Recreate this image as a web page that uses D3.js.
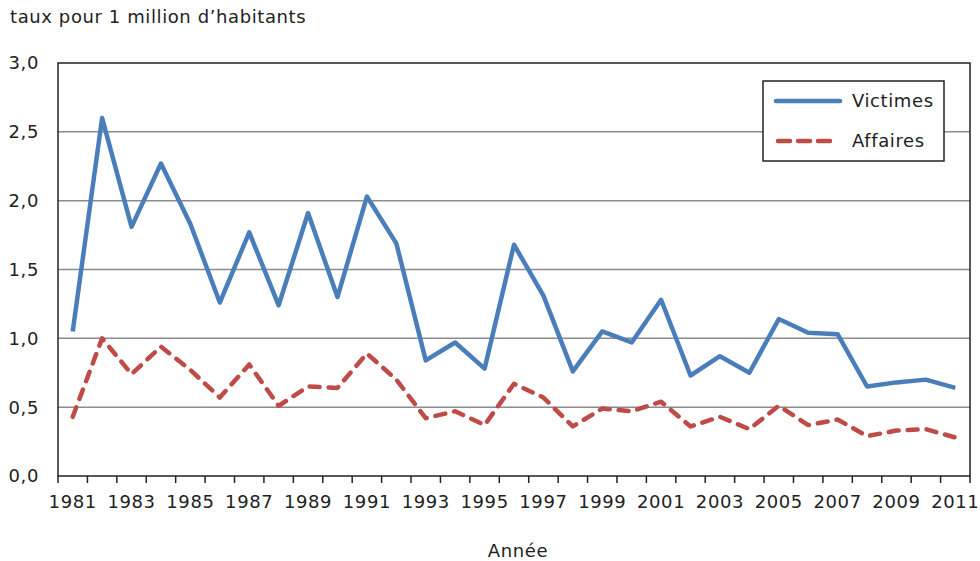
<!DOCTYPE html>
<html>
<head>
<meta charset="utf-8">
<script src="https://cdn.jsdelivr.net/npm/d3@7"></script>
<style>
  body { margin: 0; background: #fff; }
  svg text { font-family: "DejaVu Sans", Verdana, sans-serif; fill: #222; letter-spacing: 0.6px; }
</style>
</head>
<body>
<div id="chart"></div>
<script>
// DATA
var years = d3.range(1981, 2012)
var victimes = [1.05, 2.60, 1.81, 2.27, 1.83, 1.26, 1.77, 1.24, 1.91, 1.30,
  2.03, 1.69, 0.84, 0.97, 0.78, 1.68, 1.31, 0.76, 1.05, 0.97,
  1.28, 0.73, 0.87, 0.75, 1.14, 1.04, 1.03, 0.65, 0.68, 0.70, 0.64]
var affaires = [0.43, 1.00, 0.74, 0.94, 0.77, 0.57, 0.81, 0.51, 0.65, 0.64,
  0.89, 0.70, 0.42, 0.47, 0.37, 0.67, 0.57, 0.36, 0.49, 0.47,
  0.54, 0.36, 0.43, 0.34, 0.51, 0.37, 0.41, 0.29, 0.33, 0.34, 0.28]
var yTicks = [0, 0.5, 1, 1.5, 2, 2.5, 3]
var series = [{name: "Victimes", values: victimes, color: "#4a7ebb", dash: null},
  {name: "Affaires", values: affaires, color: "#be4b48", dash: "10,9"}]

var width = 980, height = 561
var margin = {top: 63, right: 10, bottom: 85, left: 58}
var FS = "18px"

var svg = d3.select("#chart").append("svg")
  .attr("width", width)
  .attr("height", height)

var x = d3.scaleBand()
  .domain(years)
  .range([margin.left, width - margin.right])
  .padding(0)

var y = d3.scaleLinear()
  .domain([0, 3])
  .range([height - margin.bottom, margin.top])

var fmt = function (d) { return d3.format(".1f")(d).replace(".", ",") }

// gridlines
svg.append("g").selectAll("line")
  .data(yTicks.slice(1, -1))
  .enter().append("line")
    .attr("x1", x.range()[0])
    .attr("x2", x.range()[1])
    .attr("y1", d => y(d))
    .attr("y2", d => y(d))
    .attr("stroke", "#8c8c8c")
    .attr("stroke-width", 1.5)

// plot frame
svg.append("rect")
  .attr("x", x.range()[0])
  .attr("y", y(3))
  .attr("width", x.range()[1] - x.range()[0])
  .attr("height", y(0) - y(3))
  .attr("fill", "none")
  .attr("stroke", "#222")
  .attr("stroke-width", 1.5)

// y labels
svg.append("g").selectAll("text")
  .data(yTicks)
  .enter().append("text")
    .attr("x", 39)
    .attr("y", d => y(d))
    .attr("dy", "0.36em")
    .attr("text-anchor", "end")
    .style("font-size", FS)
    .text(fmt)

// x ticks at category boundaries
var bounds = years.map(d => x(d)).concat([x.range()[1]])
svg.append("g").selectAll("line")
  .data(bounds)
  .enter().append("line")
    .attr("x1", d => d)
    .attr("x2", d => d)
    .attr("y1", y(0))
    .attr("y2", y(0) + 7)
    .attr("stroke", "#222")
    .attr("stroke-width", 1.5)

// x labels
var xAxis = d3.axisBottom(x)
  .tickValues(years.filter(d => d % 2 == 1))
  .tickSize(0)
  .tickPadding(0)

var gx = svg.append("g")
  .attr("transform", "translate(0," + y(0) + ")")
  .call(xAxis)
gx.select(".domain").remove()
gx.selectAll("text")
  .attr("y", 32)
  .attr("dy", 0)
  .style("font-size", FS)
  .style("font-family", "'DejaVu Sans', Verdana, sans-serif")
  .attr("fill", "#222")

// lines
var line = d3.line()
  .x((d, i) => x(years[i]) + x.bandwidth() / 2)
  .y(d => y(d))

svg.append("g").selectAll("path")
  .data(series)
  .enter().append("path")
    .attr("d", d => line(d.values))
    .attr("fill", "none")
    .attr("stroke", d => d.color)
    .attr("stroke-width", 4.5)
    .attr("stroke-dasharray", d => d.dash)
    .attr("stroke-linecap", d => d.dash ? "round" : "butt")
    .attr("stroke-linejoin", "round")

// titles
svg.append("text")
  .attr("x", 10)
  .attr("y", 23)
  .style("font-size", FS)
  .text("taux pour 1 million d\u2019habitants")

svg.append("text")
  .attr("x", (x.range()[0] + x.range()[1]) / 2 + 4)
  .attr("y", 557)
  .attr("text-anchor", "middle")
  .style("font-size", FS)
  .text("Année")

// LEGEND
var gLegend = svg.append("g").attr("class", "gLegend")
gLegend.append("rect")
  .attr("x", 763)
  .attr("y", 81)
  .attr("width", 181)
  .attr("height", 80)
  .attr("fill", "#fff")
  .attr("stroke", "#222")
  .attr("stroke-width", 1.5)

var legend = gLegend.selectAll(".legend")
  .data(series)
  .enter().append("g")
    .attr("class", "legend")
    .attr("transform", (d, i) => "translate(776," + (101 + i * 40) + ")")

legend.append("line")
  .attr("x1", d => d.dash ? 2 : 0)
  .attr("x2", d => d.dash ? 62 : 64)
  .attr("stroke", d => d.color)
  .attr("stroke-width", 4.5)
  .attr("stroke-dasharray", d => d.dash ? "12,8" : null)
  .attr("stroke-linecap", d => d.dash ? "round" : "round")

legend.append("text")
  .attr("x", 76)
  .attr("y", 0)
  .attr("dy", "0.36em")
  .style("font-size", FS)
  .text(d => d.name)
</script>
</body>
</html>
